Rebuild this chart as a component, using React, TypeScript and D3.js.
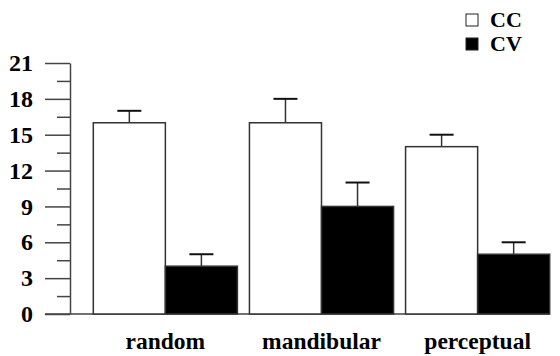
import { useEffect, useRef } from "react";
import * as d3 from "d3";

const categories = ["random", "mandibular", "perceptual"];
const seriesKeys = ["CC", "CV"];
const ccMeans = [16, 16, 14];
const ccErrors = [1, 2, 1];
const cvMeans = [4, 9, 5];
const cvErrors = [1, 2, 1];
const yTickValues = [0, 3, 6, 9, 12, 15, 18, 21];
const yMinorValues = [1.5, 4.5, 7.5, 10.5, 13.5, 16.5, 19.5];

const WIDTH = 560;
const HEIGHT = 356;
const FONT = "Liberation Serif, Tinos, Times New Roman, DejaVu Serif, serif";
const AXIS_X = 70;
const BASE_Y = 314;
const TOP_Y = 63;

export default function App() {
  const axisRef = useRef<SVGGElement>(null);

  const yScale = d3.scaleLinear().domain([0, 21]).range([BASE_Y, TOP_Y]);

  // groups of two bars, 12px gap between groups
  const xScale = d3
    .scaleBand()
    .domain(categories)
    .range([87.3, 555.7])
    .paddingInner(12 / 156)
    .paddingOuter(6 / 156);
  const xSub = d3
    .scaleBand()
    .domain(seriesKeys)
    .range([0, xScale.bandwidth()]);

  const color = d3.scaleOrdinal<string>().domain(seriesKeys).range(["#ffffff", "#000000"]);

  const rows = categories.flatMap((c, i) => [
    { cat: c, key: "CC", mean: ccMeans[i], err: ccErrors[i] },
    { cat: c, key: "CV", mean: cvMeans[i], err: cvErrors[i] },
  ]);

  // y axis with d3, major + minor ticks
  useEffect(() => {
    const g = d3.select(axisRef.current);
    g.selectAll("*").remove();

    const major = g
      .append("g")
      .call(
        d3
          .axisLeft(yScale)
          .tickValues(yTickValues)
          .tickSize(25)
          .tickSizeOuter(0)
          .tickPadding(12)
      );
    major.attr("font-family", FONT).attr("font-size", 24).attr("font-weight", "bold");
    major.select(".domain").attr("stroke", "#444").attr("stroke-width", 1.5);
    major.selectAll(".tick line").attr("stroke", "#444").attr("stroke-width", 1.5);
    major.selectAll(".tick text").attr("fill", "#000");

    const minor = g
      .append("g")
      .call(
        d3
          .axisLeft(yScale)
          .tickValues(yMinorValues)
          .tickSize(13)
          .tickSizeOuter(0)
          .tickFormat(() => "")
      );
    minor.select(".domain").remove();
    minor.selectAll(".tick line").attr("stroke", "#444").attr("stroke-width", 1.5);
  }, [yScale]);

  const lastRight = (xScale(categories[categories.length - 1]) ?? 0) + xScale.bandwidth();

  return (
    <svg
      width={WIDTH}
      height={HEIGHT}
      style={{ position: "absolute", left: 0, top: 0, background: "#fff" }}
    >
      {/* baseline */}
      <line x1={45} x2={lastRight} y1={BASE_Y} y2={BASE_Y} stroke="#444" strokeWidth={1.5} />

      {rows.map((d) => {
        const x = (xScale(d.cat) ?? 0) + (xSub(d.key) ?? 0);
        const w = xSub.bandwidth();
        const cx = x + w / 2;
        return (
          <g key={d.cat + d.key}>
            <line x1={cx} x2={cx} y1={yScale(d.mean)} y2={yScale(d.mean + d.err)} stroke="#333" strokeWidth={1.5} />
            <line x1={cx - 12} x2={cx + 12} y1={yScale(d.mean + d.err)} y2={yScale(d.mean + d.err)} stroke="#111" strokeWidth={2} />
            <rect
              x={x}
              y={yScale(d.mean)}
              width={w}
              height={yScale(0) - yScale(d.mean)}
              fill={color(d.key)}
              stroke="#333"
              strokeWidth={1.5}
            />
          </g>
        );
      })}

      <g ref={axisRef} transform={`translate(${AXIS_X},0)`} />

      {categories.map((c) => (
        <text
          key={c}
          x={(xScale(c) ?? 0) + xScale.bandwidth() / 2}
          y={349}
          textAnchor="middle"
          style={{ fontFamily: FONT, fontWeight: "bold", fontSize: 23.5 }}
        >
          {c}
        </text>
      ))}

      {/* legend */}
      {seriesKeys.map((k, i) => (
        <g key={k} transform={`translate(466,${14 + i * 24})`}>
          <rect x={0} y={0} width={12} height={12} fill={color(k)} stroke="#222" strokeWidth={1} />
          <text x={24} y={12.5} style={{ fontFamily: FONT, fontWeight: "bold", fontSize: 22 }}>
            {k}
          </text>
        </g>
      ))}
    </svg>
  );
}
